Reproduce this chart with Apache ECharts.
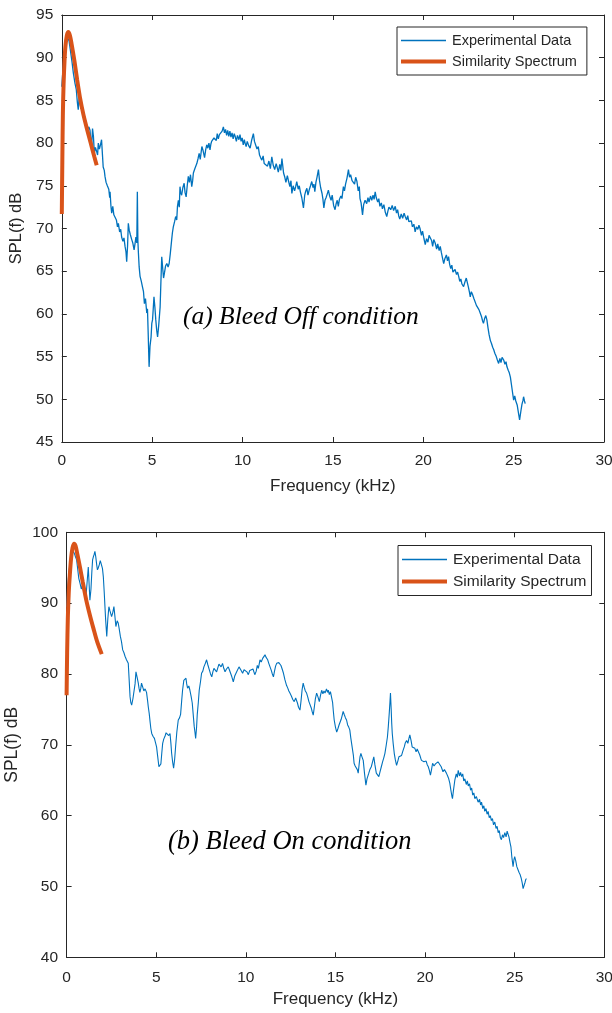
<!DOCTYPE html>
<html>
<head>
<meta charset="utf-8">
<script src="https://cdn.jsdelivr.net/npm/echarts@6/dist/echarts.min.js"></script>
<style>html,body{margin:0;padding:0;background:#fff}#c{width:612px;height:1013px}</style>
</head>
<body>
<div id="c"></div>
<script>
// ---------- DATA ----------
const xTicks = [0, 5, 10, 15, 20, 25, 30];
const yTicksOff = [45, 50, 55, 60, 65, 70, 75, 80, 85, 90, 95];
const yTicksOn = [40, 50, 60, 70, 80, 90, 100];
const seriesNames = ['Experimental Data', 'Similarity Spectrum'];
const panelLabels = ['(a) Bleed Off condition', '(b) Bleed On condition'];

// (a) Bleed Off — experimental
const freqOff = [0.00,0.06,0.12,0.18,0.25,0.32,0.40,0.48,0.56,0.64,0.73,0.80,0.86,0.91,0.96,1.00,1.06,1.12,1.18,1.28,1.36,1.44,1.50,1.56,1.60,1.65,1.70,1.75,1.80,1.86,1.93,1.98,2.02,2.08,2.14,2.20,2.25,2.29,2.35,2.39,2.45,2.52,2.60,2.65,2.67,2.72,2.76,2.82,2.88,2.95,3.02,3.08,3.13,3.20,3.26,3.31,3.38,3.44,3.50,3.55,3.59,3.64,3.68,3.73,3.79,3.87,3.93,4.00,4.05,4.10,4.15,4.18,4.21,4.24,4.28,4.33,4.40,4.46,4.52,4.57,4.63,4.70,4.74,4.78,4.83,4.88,4.94,4.98,5.02,5.06,5.10,5.15,5.20,5.25,5.30,5.36,5.44,5.48,5.53,5.58,5.63,5.68,5.74,5.81,5.88,5.94,6.00,6.08,6.12,6.17,6.24,6.30,6.36,6.40,6.45,6.50,6.54,6.58,6.63,6.70,6.77,6.82,6.88,6.94,7.00,7.06,7.12,7.19,7.24,7.28,7.36,7.42,7.47,7.54,7.60,7.66,7.75,7.82,7.90,7.96,8.02,8.08,8.14,8.20,8.25,8.29,8.36,8.42,8.48,8.55,8.60,8.66,8.72,8.80,8.87,8.94,9.00,9.06,9.12,9.18,9.24,9.30,9.36,9.42,9.48,9.54,9.59,9.66,9.72,9.80,9.86,9.92,9.98,10.04,10.10,10.14,10.20,10.26,10.34,10.42,10.50,10.60,10.66,10.72,10.80,10.87,10.94,11.00,11.07,11.14,11.20,11.30,11.38,11.46,11.54,11.62,11.70,11.78,11.86,11.90,11.98,12.06,12.12,12.18,12.27,12.34,12.40,12.48,12.55,12.62,12.68,12.73,12.80,12.88,12.94,13.00,13.08,13.14,13.20,13.28,13.37,13.44,13.50,13.56,13.62,13.70,13.76,13.83,13.90,13.95,14.00,14.06,14.12,14.20,14.26,14.32,14.40,14.45,14.50,14.56,14.62,14.68,14.75,14.82,14.90,14.96,15.04,15.12,15.18,15.24,15.30,15.36,15.44,15.50,15.58,15.64,15.70,15.78,15.86,15.92,15.98,16.06,16.14,16.20,16.26,16.33,16.40,16.46,16.50,16.56,16.64,16.70,16.78,16.87,16.94,17.00,17.08,17.15,17.22,17.28,17.34,17.40,17.48,17.54,17.60,17.68,17.74,17.82,17.90,17.98,18.04,18.10,18.20,18.28,18.36,18.45,18.52,18.58,18.64,18.70,18.78,18.86,18.94,19.00,19.08,19.14,19.20,19.27,19.34,19.40,19.48,19.55,19.62,19.70,19.76,19.82,19.90,19.96,20.04,20.11,20.18,20.26,20.32,20.38,20.46,20.52,20.58,20.66,20.74,20.80,20.88,20.94,21.00,21.06,21.13,21.20,21.28,21.34,21.40,21.46,21.52,21.58,21.64,21.68,21.76,21.84,21.90,21.96,22.02,22.08,22.14,22.23,22.30,22.38,22.45,22.50,22.56,22.60,22.66,22.72,22.80,22.88,22.94,23.00,23.08,23.15,23.22,23.28,23.33,23.40,23.46,23.52,23.58,23.64,23.71,23.78,23.84,23.90,23.96,24.04,24.10,24.17,24.24,24.30,24.36,24.45,24.52,24.58,24.63,24.70,24.76,24.82,24.88,24.94,25.00,25.06,25.12,25.20,25.26,25.33,25.40,25.46,25.52,25.55,25.60,25.64];
const splOff = [86.6,88.5,90.2,91.2,91.8,92.3,92.0,90.8,89.6,88.2,87.0,86.3,84.8,83.9,85.4,85.2,84.0,84.5,83.2,82.7,82.0,81.6,81.9,81.5,80.4,79.6,81.7,80.8,78.8,79.5,79.0,78.6,80.0,79.3,79.8,80.4,78.6,77.2,76.8,76.1,75.4,75.0,74.6,73.6,74.3,72.6,71.8,72.6,71.6,71.4,71.0,70.2,70.6,69.6,69.9,69.0,68.5,68.9,67.9,67.3,66.1,68.0,70.6,69.8,69.3,68.7,68.3,67.5,68.2,69.0,68.3,74.3,68.5,67.1,65.5,64.4,63.8,63.2,62.6,61.2,61.8,60.1,60.6,57.7,53.8,56.2,57.3,58.9,59.3,60.6,62.0,60.8,59.3,58.1,57.3,58.6,60.8,63.5,66.7,65.4,64.2,64.8,65.6,65.9,65.5,65.9,67.0,68.7,69.5,70.2,70.8,71.4,71.0,72.6,73.3,72.5,74.9,74.2,73.9,74.8,75.3,74.2,73.7,75.0,76.1,75.4,76.3,74.9,75.6,76.5,77.0,77.2,77.6,78.2,78.8,78.1,79.6,79.1,78.3,79.2,79.8,79.4,80.0,79.2,79.9,80.2,80.0,80.6,80.8,80.3,81.1,80.5,81.0,80.9,81.4,81.9,81.2,81.6,80.9,81.5,80.8,81.4,80.7,81.2,80.5,81.1,80.8,80.2,80.9,80.4,81.0,80.2,80.6,79.8,80.4,80.0,79.6,80.2,79.7,79.4,80.3,81.1,80.2,80.0,79.3,79.6,78.6,78.3,78.0,78.5,77.6,77.7,77.3,77.9,77.0,78.4,77.4,76.9,77.6,77.3,76.6,77.5,76.8,78.2,76.5,76.0,75.4,76.2,75.5,74.9,75.6,74.1,75.0,74.4,74.9,75.5,74.6,75.0,74.3,73.6,72.4,73.9,74.4,74.7,73.9,74.6,75.0,75.5,74.8,75.2,74.3,75.4,76.0,76.9,75.6,74.8,74.1,73.4,72.4,73.3,73.6,74.0,74.5,73.8,73.3,73.9,72.7,72.2,72.9,73.3,72.6,73.4,73.8,73.5,74.9,74.4,75.2,75.9,76.9,76.0,76.3,75.6,75.8,75.2,76.0,75.5,74.4,74.9,73.5,73.0,71.6,72.8,73.3,72.9,73.6,73.1,73.8,73.3,73.9,73.4,74.3,73.6,73.1,73.5,72.6,73.0,72.3,72.8,71.9,71.4,72.0,72.5,72.2,72.7,72.1,72.6,71.8,72.2,71.5,71.1,71.7,71.2,71.8,71.4,71.0,71.5,70.8,70.6,70.9,70.2,70.5,69.6,70.2,69.9,70.4,70.0,69.2,69.7,68.8,68.1,68.8,68.4,69.2,69.1,68.6,67.9,68.7,68.3,67.6,68.2,67.4,67.9,67.2,66.6,65.9,66.5,66.9,66.2,66.7,65.8,65.3,65.7,64.9,64.8,65.2,64.6,64.9,64.4,63.8,64.1,63.5,63.2,63.7,64.2,64.0,63.1,62.5,62.0,62.6,62.3,61.8,61.6,61.0,60.8,60.5,60.1,59.7,59.2,58.9,59.5,59.8,59.3,58.4,57.6,56.9,56.5,56.1,55.8,55.4,55.0,54.6,54.2,54.8,54.3,54.9,54.6,54.1,54.4,53.8,53.4,53.1,52.6,51.7,50.8,49.9,50.4,49.8,49.3,48.5,47.6,48.6,49.4,49.9,50.3,49.8,49.5];

// (a) Bleed Off — similarity spectrum
const simFreqOff = [0.00,0.03,0.06,0.10,0.15,0.20,0.28,0.36,0.45,0.55,0.70,0.85,1.00,1.20,1.40,1.60,1.80,1.93];
const simSplOff = [71.7,78.0,83.5,87.0,89.6,91.3,92.6,93.0,92.6,91.5,89.6,87.4,85.4,83.3,81.6,80.0,78.4,77.4];

// (b) Bleed On — experimental
const freqOn = [0.00,0.05,0.10,0.16,0.22,0.30,0.38,0.45,0.50,0.56,0.62,0.68,0.75,0.82,0.88,0.93,1.00,1.08,1.14,1.21,1.26,1.30,1.36,1.41,1.45,1.50,1.54,1.58,1.63,1.68,1.72,1.77,1.82,1.88,1.96,2.00,2.05,2.10,2.14,2.18,2.24,2.30,2.36,2.42,2.51,2.57,2.64,2.70,2.75,2.82,2.88,2.94,3.00,3.06,3.13,3.20,3.26,3.34,3.44,3.49,3.54,3.58,3.63,3.70,3.76,3.82,3.87,3.93,4.00,4.04,4.09,4.14,4.18,4.24,4.31,4.38,4.46,4.52,4.56,4.61,4.66,4.70,4.75,4.82,4.90,4.96,5.02,5.08,5.15,5.20,5.26,5.31,5.36,5.42,5.49,5.55,5.62,5.70,5.77,5.82,5.86,5.92,5.97,6.03,6.08,6.15,6.23,6.30,6.36,6.42,6.47,6.54,6.60,6.66,6.70,6.75,6.82,6.88,6.95,7.01,7.06,7.12,7.16,7.20,7.25,7.29,7.35,7.40,7.47,7.53,7.60,7.66,7.74,7.81,7.88,7.96,8.03,8.10,8.16,8.22,8.30,8.37,8.44,8.50,8.56,8.62,8.70,8.77,8.84,8.92,9.02,9.08,9.15,9.22,9.30,9.38,9.49,9.56,9.62,9.67,9.74,9.82,9.90,10.00,10.06,10.14,10.22,10.32,10.40,10.50,10.58,10.64,10.70,10.79,10.86,10.94,11.00,11.07,11.14,11.22,11.28,11.35,11.42,11.48,11.54,11.60,11.66,11.72,11.78,11.84,11.90,11.96,12.04,12.10,12.18,12.27,12.34,12.40,12.46,12.54,12.62,12.70,12.78,12.88,12.94,13.02,13.08,13.14,13.20,13.26,13.32,13.39,13.46,13.52,13.58,13.65,13.70,13.76,13.82,13.88,13.95,14.02,14.10,14.16,14.23,14.30,14.36,14.42,14.50,14.56,14.60,14.66,14.72,14.79,14.84,14.88,14.93,15.00,15.07,15.14,15.20,15.25,15.32,15.38,15.43,15.50,15.56,15.62,15.68,15.74,15.80,15.86,15.93,16.00,16.04,16.10,16.17,16.22,16.27,16.32,16.37,16.42,16.48,16.55,16.62,16.70,16.76,16.86,16.92,17.00,17.07,17.14,17.20,17.28,17.35,17.42,17.49,17.56,17.63,17.70,17.76,17.83,17.90,17.95,18.00,18.04,18.07,18.11,18.14,18.17,18.22,18.28,18.34,18.41,18.48,18.54,18.62,18.69,18.76,18.84,18.90,18.97,19.04,19.10,19.15,19.22,19.28,19.35,19.43,19.50,19.56,19.62,19.70,19.76,19.80,19.88,19.94,19.99,20.06,20.12,20.18,20.24,20.30,20.36,20.42,20.50,20.58,20.64,20.72,20.82,20.90,21.00,21.08,21.14,21.19,21.26,21.32,21.38,21.44,21.50,21.53,21.58,21.66,21.74,21.80,21.85,21.92,21.98,22.04,22.10,22.16,22.22,22.30,22.36,22.41,22.48,22.54,22.60,22.66,22.72,22.78,22.86,22.96,23.04,23.10,23.15,23.22,23.28,23.33,23.40,23.46,23.52,23.58,23.64,23.70,23.76,23.82,23.89,23.96,24.02,24.08,24.14,24.20,24.26,24.32,24.38,24.45,24.52,24.58,24.63,24.68,24.74,24.79,24.84,24.88,24.91,24.96,25.00,25.06,25.12,25.18,25.24,25.30,25.36,25.42,25.47,25.52,25.58,25.62,25.66];
const splOn = [89.5,91.5,93.5,95.0,96.2,97.0,97.3,96.9,96.5,96.1,94.8,93.5,92.8,92.0,92.5,91.9,91.3,90.9,92.8,95.1,92.5,90.4,92.0,94.5,96.1,96.6,96.9,97.3,96.5,95.4,94.7,95.0,95.4,96.0,95.8,94.9,93.7,91.5,89.5,87.6,85.3,87.8,89.5,88.9,88.1,88.6,89.5,88.0,86.7,87.5,87.2,86.3,85.3,84.6,83.4,83.0,82.5,82.0,81.5,79.2,76.8,76.0,75.6,76.5,76.3,78.6,80.3,79.6,78.7,78.0,77.4,78.0,78.7,78.2,77.6,77.9,77.4,76.2,75.3,74.4,73.2,72.3,71.6,71.2,70.9,70.3,69.7,68.4,66.9,66.8,67.3,68.8,70.2,70.8,71.2,71.7,71.6,71.3,71.6,70.2,68.8,67.5,66.7,68.0,69.7,71.8,73.5,73.8,74.3,76.2,77.7,79.1,79.0,79.4,78.6,78.0,78.3,77.7,76.8,75.9,74.4,72.6,71.8,70.9,72.4,74.3,76.0,77.7,78.9,80.1,80.4,81.0,81.5,82.0,81.3,80.6,80.0,79.6,80.3,80.8,80.6,80.3,80.9,81.4,81.3,81.0,81.5,80.8,80.3,80.7,81.0,80.6,80.1,79.6,78.9,79.7,80.3,80.5,81.0,80.8,80.5,80.1,80.6,80.8,80.3,79.9,80.5,80.3,80.7,79.9,80.4,81.2,80.8,82.0,81.7,82.2,82.4,82.7,82.3,82.0,81.5,81.0,80.5,80.0,79.6,80.4,81.1,81.5,81.3,81.6,81.8,81.2,80.6,80.1,79.2,78.4,78.0,77.6,77.3,76.9,76.4,76.1,76.6,75.9,75.3,74.9,76.2,77.8,78.7,78.1,77.6,77.3,76.7,76.1,75.9,75.2,74.7,74.2,75.3,76.5,77.3,76.8,76.1,76.9,77.7,77.2,77.6,77.3,77.9,77.4,77.7,77.1,77.5,77.3,76.0,74.8,73.5,72.5,71.8,72.3,72.8,73.0,73.6,74.2,74.7,74.2,73.8,73.5,72.8,72.5,72.1,70.9,69.7,68.5,67.4,67.0,66.9,66.5,66.0,67.2,68.3,68.8,68.3,67.8,66.0,64.3,65.2,66.0,66.5,66.9,67.6,68.3,67.2,66.0,65.8,65.5,66.2,66.9,67.6,68.2,68.8,69.9,71.1,72.6,74.4,76.0,77.3,75.0,73.0,71.6,70.2,68.8,67.9,67.1,67.7,68.3,68.1,68.5,69.1,69.7,70.3,70.6,70.2,70.9,71.4,70.6,69.7,69.9,69.5,69.0,69.4,69.3,68.6,68.1,67.8,68.0,67.6,67.4,67.7,67.2,66.9,66.4,65.7,66.5,67.4,67.0,67.3,67.1,67.6,67.4,66.9,66.2,66.5,66.3,66.0,65.6,65.2,64.6,63.6,62.7,62.4,63.5,65.0,65.9,65.4,66.4,65.6,66.1,65.5,65.9,64.9,65.2,64.4,64.9,64.2,64.5,63.6,63.9,62.9,63.2,62.4,62.7,61.9,62.3,61.5,61.9,61.0,61.4,60.6,61.0,60.2,60.6,59.7,60.0,59.3,59.6,58.7,59.1,58.2,58.5,57.6,57.9,56.9,56.6,57.3,56.9,57.6,57.0,57.8,57.4,57.0,56.2,55.6,54.2,53.4,52.8,53.8,54.2,53.6,52.8,52.4,52.0,51.7,51.2,50.5,49.7,49.8,50.6,51.0,51.1];

// (b) Bleed On — similarity spectrum
const simFreqOn = [0.00,0.03,0.07,0.12,0.18,0.25,0.33,0.42,0.50,0.60,0.75,0.90,1.10,1.30,1.50,1.70,1.96];
const simSplOn = [77.0,83.0,88.0,91.5,94.0,96.3,97.8,98.4,98.1,96.9,95.0,93.0,90.4,88.3,86.4,84.6,82.8];

// ---------- BUILD ----------
const zip = (a, b) => a.map((v, i) => [v, b[i]]);
const BLUE = '#0072BD', ORANGE = '#D95319', AX = '#262626';
const FONT = '"Liberation Sans", Arial, Helvetica, sans-serif';

const grids = [
  { left: 61.8, top: 15, width: 542.2, height: 427, containLabel: false, outerBoundsMode: 'none' },
  { left: 66.6, top: 532.3, width: 537.7, height: 425, containLabel: false, outerBoundsMode: 'none' }
];

function xAx(gi, main, nameSize, gap, lblMargin) {
  return {
    gridIndex: gi, type: 'value', min: xTicks[0], max: xTicks[xTicks.length - 1],
    interval: xTicks[1] - xTicks[0], position: main ? 'bottom' : 'top',
    name: main ? 'Frequency (kHz)' : '', nameLocation: 'middle',
    nameGap: gap,
    nameTextStyle: { fontFamily: FONT, fontSize: nameSize, color: AX },
    axisLine: { show: true, onZero: false, lineStyle: { color: AX, width: 1 } },
    axisTick: { show: true, inside: true, length: 5, lineStyle: { color: AX } },
    axisLabel: { show: main, margin: lblMargin, fontFamily: FONT, fontSize: 15.5, color: AX },
    splitLine: { show: false }
  };
}
function yAx(gi, main, ticks, nameSize, gap) {
  return {
    gridIndex: gi, type: 'value', min: ticks[0], max: ticks[ticks.length - 1],
    interval: ticks[1] - ticks[0], position: main ? 'left' : 'right',
    name: main ? 'SPL(f) dB' : '', nameLocation: 'middle', nameGap: gap,
    nameTextStyle: { fontFamily: FONT, fontSize: nameSize, color: AX },
    axisLine: { show: true, onZero: false, lineStyle: { color: AX, width: 1 } },
    axisTick: { show: true, inside: true, length: 5, lineStyle: { color: AX } },
    axisLabel: { show: main, margin: 8.5, fontFamily: FONT, fontSize: 15.5, color: AX },
    splitLine: { show: false }
  };
}

// legend icons: plain line segments of the series' thickness
const ICON_THIN = 'path://M0,0H45V1.3H0Z';
const ICON_THICK = 'path://M0,0H45V4H0Z';
function legend(left, top, fs, padR) {
  return {
    orient: 'vertical', left: left, top: top,
    data: [{ name: seriesNames[0], icon: ICON_THIN }, { name: seriesNames[1], icon: ICON_THICK }],
    itemWidth: 45, itemHeight: 14, itemGap: 6, symbolKeepAspect: true,
    padding: [6, padR, 6, 4],
    borderColor: AX, borderWidth: 1, backgroundColor: '#fff',
    textStyle: { fontFamily: FONT, fontSize: fs, color: AX, padding: [0, 0, 0, 1] },
    selectedMode: false
  };
}

const option = {
  backgroundColor: '#fff',
  animation: false,
  grid: grids,
  xAxis: [xAx(0, true, 17, 36, 11), xAx(0, false, 17, 36, 11), xAx(1, true, 17, 34, 12), xAx(1, false, 17, 34, 12)],
  yAxis: [yAx(0, true, yTicksOff, 16.5, 31), yAx(0, false, yTicksOff, 16.5, 31),
          yAx(1, true, yTicksOn, 17.5, 38), yAx(1, false, yTicksOn, 17.5, 38)],
  legend: [legend(397, 27, 14.5, 10), legend(398, 545.5, 15.5, 5)],
  series: [
    { name: seriesNames[0], type: 'line', xAxisIndex: 0, yAxisIndex: 0, data: zip(freqOff, splOff),
      showSymbol: false, symbol: 'none', lineStyle: { color: BLUE, width: 1.3 }, itemStyle: { color: BLUE }, z: 2 },
    { name: seriesNames[1], type: 'line', xAxisIndex: 0, yAxisIndex: 0, data: zip(simFreqOff, simSplOff),
      showSymbol: false, symbol: 'none', smooth: 0.3, clip: false,
      lineStyle: { color: ORANGE, width: 4 }, itemStyle: { color: ORANGE }, z: 3 },
    { name: seriesNames[0], type: 'line', xAxisIndex: 2, yAxisIndex: 2, data: zip(freqOn, splOn),
      showSymbol: false, symbol: 'none', lineStyle: { color: BLUE, width: 1.1 }, itemStyle: { color: BLUE }, z: 2 },
    { name: seriesNames[1], type: 'line', xAxisIndex: 2, yAxisIndex: 2, data: zip(simFreqOn, simSplOn),
      showSymbol: false, symbol: 'none', smooth: 0.3, clip: false,
      lineStyle: { color: ORANGE, width: 4 }, itemStyle: { color: ORANGE }, z: 3 }
  ],
  graphic: [
    { type: 'text', left: 183, top: 304, z: 10,
      style: { text: panelLabels[0], fill: '#000', font: 'italic 25.5px "Liberation Serif", "Times New Roman", serif' } },
    { type: 'text', left: 168, top: 829, z: 10,
      style: { text: panelLabels[1], fill: '#000', font: 'italic 26.5px "Liberation Serif", "Times New Roman", serif' } }
  ]
};

const chart = echarts.init(document.getElementById('c'), null, { renderer: 'canvas' });
chart.setOption(option);
</script>
</body>
</html>
